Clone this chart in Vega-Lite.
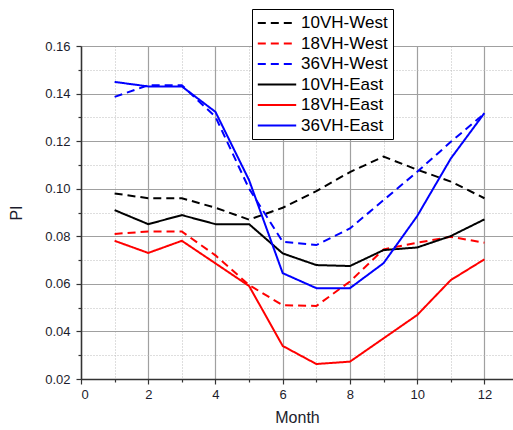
{
  "$schema": "https://vega.github.io/schema/vega-lite/v6.json",
  "width": 432,
  "height": 333,
  "autosize": {"type": "none"},
  "padding": {"left": 81, "top": 46, "right": 0, "bottom": 51},
  "config": {"font": "Liberation Sans", "view": {"stroke": null}},
  "data": {"values": [
    {"month": 1, "series": "10VH-West", "value": 0.098},
    {"month": 2, "series": "10VH-West", "value": 0.096},
    {"month": 3, "series": "10VH-West", "value": 0.096},
    {"month": 4, "series": "10VH-West", "value": 0.092},
    {"month": 5, "series": "10VH-West", "value": 0.087},
    {"month": 6, "series": "10VH-West", "value": 0.092},
    {"month": 7, "series": "10VH-West", "value": 0.099},
    {"month": 8, "series": "10VH-West", "value": 0.107},
    {"month": 9, "series": "10VH-West", "value": 0.1135},
    {"month": 10, "series": "10VH-West", "value": 0.108},
    {"month": 11, "series": "10VH-West", "value": 0.103},
    {"month": 12, "series": "10VH-West", "value": 0.096},
    {"month": 1, "series": "18VH-West", "value": 0.081},
    {"month": 2, "series": "18VH-West", "value": 0.082},
    {"month": 3, "series": "18VH-West", "value": 0.082},
    {"month": 4, "series": "18VH-West", "value": 0.072},
    {"month": 5, "series": "18VH-West", "value": 0.0595},
    {"month": 6, "series": "18VH-West", "value": 0.051},
    {"month": 7, "series": "18VH-West", "value": 0.0507},
    {"month": 8, "series": "18VH-West", "value": 0.061},
    {"month": 9, "series": "18VH-West", "value": 0.0745},
    {"month": 10, "series": "18VH-West", "value": 0.0773},
    {"month": 11, "series": "18VH-West", "value": 0.0798},
    {"month": 12, "series": "18VH-West", "value": 0.0773},
    {"month": 1, "series": "36VH-West", "value": 0.1386},
    {"month": 2, "series": "36VH-West", "value": 0.1435},
    {"month": 3, "series": "36VH-West", "value": 0.1435},
    {"month": 4, "series": "36VH-West", "value": 0.1302},
    {"month": 5, "series": "36VH-West", "value": 0.1},
    {"month": 6, "series": "36VH-West", "value": 0.0777},
    {"month": 7, "series": "36VH-West", "value": 0.0763},
    {"month": 8, "series": "36VH-West", "value": 0.0833},
    {"month": 9, "series": "36VH-West", "value": 0.0952},
    {"month": 10, "series": "36VH-West", "value": 0.1071},
    {"month": 11, "series": "36VH-West", "value": 0.1197},
    {"month": 12, "series": "36VH-West", "value": 0.1316},
    {"month": 1, "series": "10VH-East", "value": 0.091},
    {"month": 2, "series": "10VH-East", "value": 0.0851},
    {"month": 3, "series": "10VH-East", "value": 0.0889},
    {"month": 4, "series": "10VH-East", "value": 0.0851},
    {"month": 5, "series": "10VH-East", "value": 0.0851},
    {"month": 6, "series": "10VH-East", "value": 0.0728},
    {"month": 7, "series": "10VH-East", "value": 0.0679},
    {"month": 8, "series": "10VH-East", "value": 0.0675},
    {"month": 9, "series": "10VH-East", "value": 0.0742},
    {"month": 10, "series": "10VH-East", "value": 0.0753},
    {"month": 11, "series": "10VH-East", "value": 0.0801},
    {"month": 12, "series": "10VH-East", "value": 0.0871},
    {"month": 1, "series": "18VH-East", "value": 0.0781},
    {"month": 2, "series": "18VH-East", "value": 0.073},
    {"month": 3, "series": "18VH-East", "value": 0.0781},
    {"month": 4, "series": "18VH-East", "value": 0.0686},
    {"month": 5, "series": "18VH-East", "value": 0.0591},
    {"month": 6, "series": "18VH-East", "value": 0.0339},
    {"month": 7, "series": "18VH-East", "value": 0.0263},
    {"month": 8, "series": "18VH-East", "value": 0.0273},
    {"month": 9, "series": "18VH-East", "value": 0.0371},
    {"month": 10, "series": "18VH-East", "value": 0.0469},
    {"month": 11, "series": "18VH-East", "value": 0.0616},
    {"month": 12, "series": "18VH-East", "value": 0.0703},
    {"month": 1, "series": "36VH-East", "value": 0.1449},
    {"month": 2, "series": "36VH-East", "value": 0.143},
    {"month": 3, "series": "36VH-East", "value": 0.143},
    {"month": 4, "series": "36VH-East", "value": 0.1323},
    {"month": 5, "series": "36VH-East", "value": 0.1036},
    {"month": 6, "series": "36VH-East", "value": 0.0645},
    {"month": 7, "series": "36VH-East", "value": 0.0582},
    {"month": 8, "series": "36VH-East", "value": 0.0582},
    {"month": 9, "series": "36VH-East", "value": 0.0687},
    {"month": 10, "series": "36VH-East", "value": 0.0885},
    {"month": 11, "series": "36VH-East", "value": 0.1127},
    {"month": 12, "series": "36VH-East", "value": 0.1318}
  ]},
  "layer": [
    {
      "mark": {"type": "line", "strokeOpacity": 0},
      "encoding": {
        "x": {"field": "month", "type": "quantitative",
          "scale": {"domain": [0, 12.85], "nice": false, "zero": false},
          "axis": {"orient": "bottom", "values": [1, 3, 5, 7, 9, 11], "grid": true, "gridDash": [1, 2], "gridColor": "#bdbdbd", "gridWidth": 1,
            "labels": false, "domain": false, "ticks": true, "tickSize": 3, "tickColor": "#333333", "tickWidth": 1.2, "title": null}},
        "y": {"field": "value", "type": "quantitative",
          "scale": {"domain": [0.02, 0.16], "nice": false, "zero": false},
          "axis": {"orient": "left", "values": [0.03, 0.05, 0.07, 0.09, 0.11, 0.13, 0.15], "grid": true, "gridDash": [1, 2], "gridColor": "#bdbdbd", "gridWidth": 1,
            "labels": false, "domain": false, "ticks": true, "tickSize": 3, "tickColor": "#333333", "tickWidth": 1.2, "title": null}},
        "detail": {"field": "series"}
      }
    },
    {
      "mark": {"type": "line", "strokeWidth": 2},
      "encoding": {
        "x": {"field": "month", "type": "quantitative",
          "axis": {"orient": "bottom", "values": [0, 2, 4, 6, 8, 10, 12], "grid": true, "gridColor": "#a0a0a0", "gridWidth": 1.2,
            "domain": true, "domainColor": "#333333", "domainWidth": 1.5, "tickSize": 5, "tickColor": "#333333", "tickWidth": 1.2,
            "labelFontSize": 13, "labelColor": "#1c1c2c", "labelPadding": 4,
            "title": "Month", "titleFontSize": 16, "titleFontWeight": "normal", "titleColor": "#1c1c2c", "titlePadding": 8}},
        "y": {"field": "value", "type": "quantitative",
          "axis": {"orient": "left", "values": [0.02, 0.04, 0.06, 0.08, 0.1, 0.12, 0.14, 0.16], "format": ".2f", "grid": true, "gridColor": "#a0a0a0", "gridWidth": 1.2,
            "domain": true, "domainColor": "#333333", "domainWidth": 1.5, "tickSize": 5, "tickColor": "#333333", "tickWidth": 1.2,
            "labelFontSize": 13, "labelColor": "#1c1c2c", "labelPadding": 6,
            "title": "PI", "titleFontSize": 16, "titleFontWeight": "normal", "titleColor": "#1c1c2c", "titlePadding": 20}},
        "color": {"field": "series", "type": "nominal",
          "scale": {"domain": ["10VH-West", "18VH-West", "36VH-West", "10VH-East", "18VH-East", "36VH-East"],
                    "range": ["#000000", "#ff0000", "#0000ff", "#000000", "#ff0000", "#0000ff"]},
          "legend": {"orient": "none", "legendX": 171, "legendY": -37, "title": null,
            "strokeColor": "#000000", "fillColor": "#ffffff", "padding": 5,
            "symbolType": "M-2.4,0H2.4", "symbolSize": 256, "symbolStrokeWidth": 2, "symbolOffset": 11,
            "labelFontSize": 17, "labelColor": "#000000", "labelOffset": 15, "rowPadding": 3.5}},
        "strokeDash": {"field": "series", "type": "nominal",
          "scale": {"domain": ["10VH-West", "18VH-West", "36VH-West", "10VH-East", "18VH-East", "36VH-East"],
                    "range": [[8, 5], [8, 5], [8, 5], [1, 0], [1, 0], [1, 0]]},
          "legend": {"orient": "none", "legendX": 171, "legendY": -37, "title": null}}
      }
    }
  ],
  "resolve": {"axis": {"x": "independent", "y": "independent"}}
}
